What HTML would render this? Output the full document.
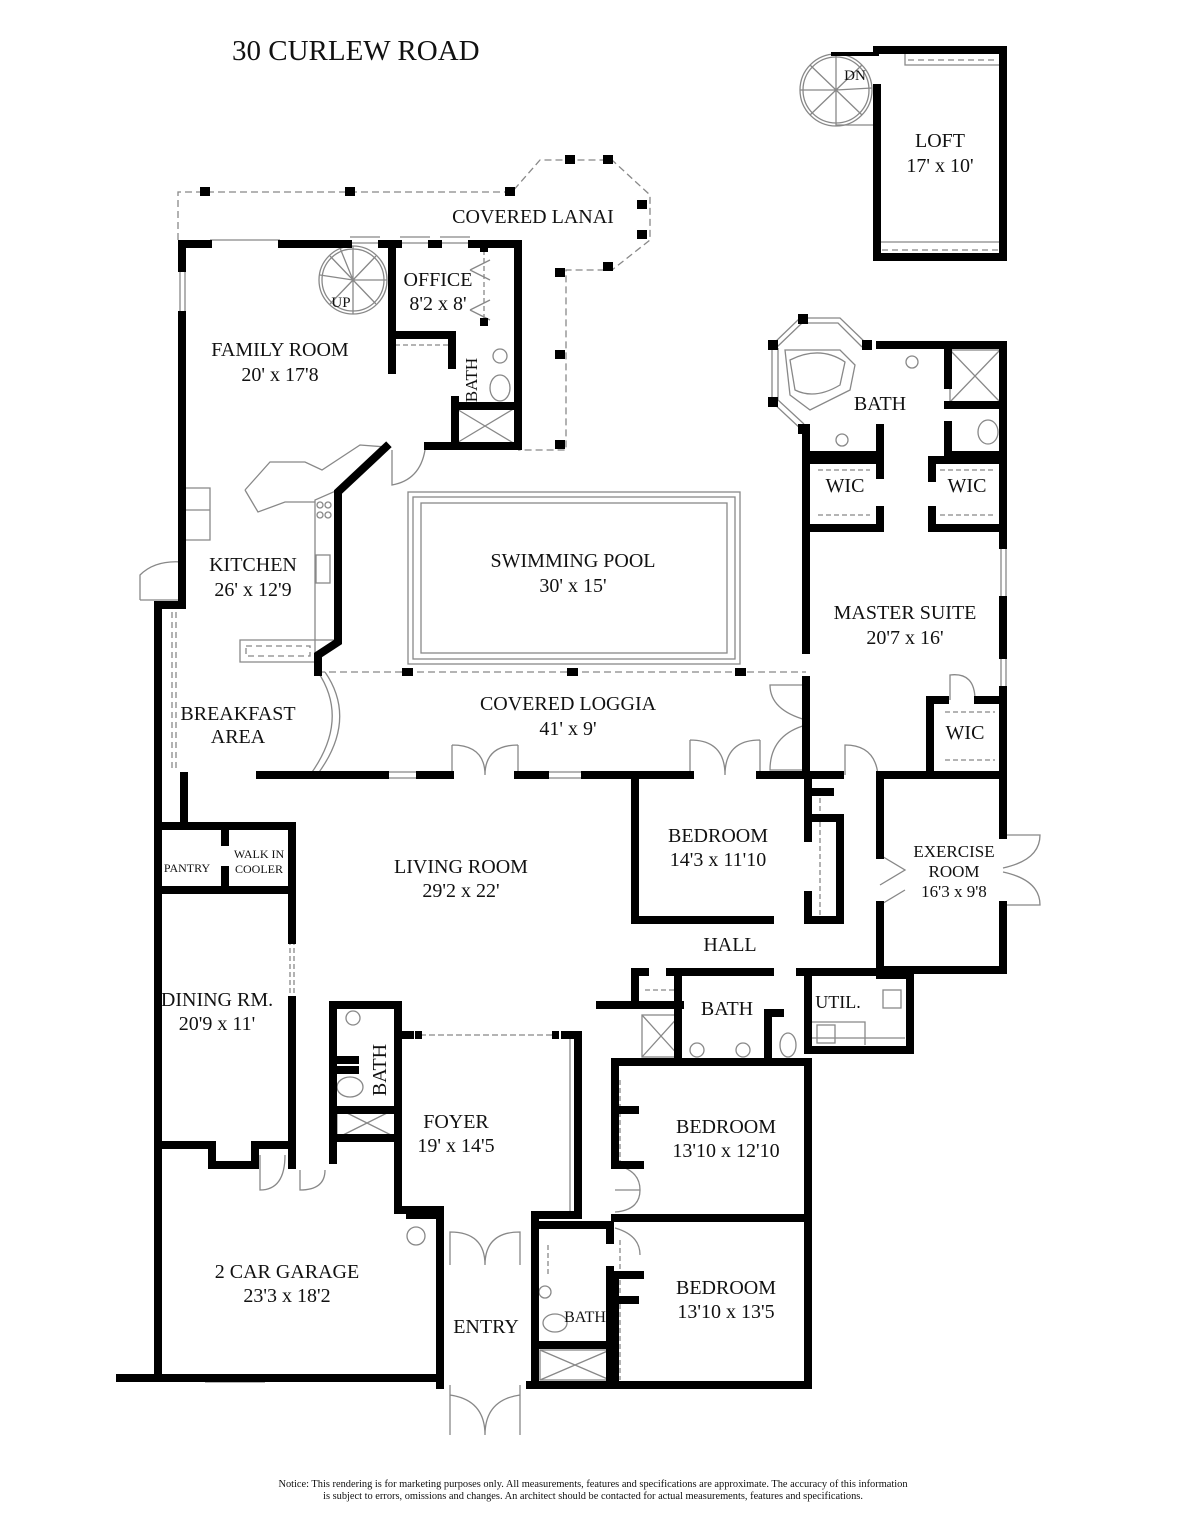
<!DOCTYPE html>
<html><head><meta charset="utf-8"><style>
html,body{margin:0;padding:0;background:#fff}
svg{display:block}
text{font-family:"Liberation Serif",serif;fill:#111}
</style></head><body>
<svg width="1186" height="1536" viewBox="0 0 1186 1536" xmlns="http://www.w3.org/2000/svg">
<rect width="1186" height="1536" fill="#fff"/>
<text x="232" y="60" font-size="29">30 CURLEW ROAD</text>

<g fill="none" stroke="#888" stroke-width="1.3">
 <path d="M178 240 L178 192 L512 192 L540 160 L612 160 L650 195 L650 240 L612 270 L566 270 L566 450 L518 450" stroke-dasharray="7 4"/>
 <path d="M318 672 L806 672" stroke-dasharray="7 4"/>
 <rect x="408" y="492" width="332" height="172"/>
 <rect x="413" y="497" width="322" height="162"/>
 <rect x="421" y="503" width="306" height="150"/>
 <path d="M318 672 Q350 720 310 775 M325 672 Q358 720 317 775"/>
 <path d="M905 50 L905 65 L1000 65 M880 242 L1000 242" />
 <path d="M908 60 L998 60 M882 250 L998 250" stroke-dasharray="6 4"/>
 <path d="M245 490 L270 462 L305 462 L322 470 L360 445 L386 447 L338 490 L315 500 L315 640 L338 640 M245 490 L258 512 L285 502 L315 502 M240 640 L315 640 L315 662 L240 662 Z"/>
 <path d="M246 646 L310 646 L310 656 L246 656 Z" stroke-dasharray="6 4"/>
 <path d="M185 488 L210 488 L210 540 L185 540 M185 510 L210 510"/>
 <rect x="316" y="555" width="14" height="28"/>
 <circle cx="320" cy="505" r="3"/><circle cx="328" cy="505" r="3"/><circle cx="320" cy="515" r="3"/><circle cx="328" cy="515" r="3"/>
 <path d="M180 268 L180 315 M185 268 L185 315 M210 240 L280 240 M350 237 L380 237 M350 243 L380 243 M400 237 L430 237 M400 243 L430 243 M440 237 L470 237 M440 243 L470 243"/>
 <path d="M336 500 L336 640 M341 500 L341 640"/>
 <path d="M385 772 L420 772 M385 778 L420 778 M545 772 L585 772 M545 778 L585 778"/>
 <path d="M804 555 L804 650 M809 555 L809 650 M1001 545 L1001 600 M1006 545 L1006 600 M1001 655 L1001 690 M1006 655 L1006 690"/>
 <path d="M1001 80 L1001 120 M1006 80 L1006 120 M1001 190 L1001 230 M1006 190 L1006 230"/>
 <path d="M155 1160 L155 1365 M160 1160 L160 1365 M205 1377 L265 1377 M205 1382 L265 1382"/>
 <path d="M555 1383 L590 1383 M555 1388 L590 1388 M695 1383 L755 1383 M695 1388 L755 1388"/>
 <path d="M156 1000 L156 1060 M161 1000 L161 1060 M806 1105 L806 1180 M811 1105 L811 1180 M806 1245 L806 1320 M811 1245 L811 1320"/>
 <path d="M570 1035 L570 1215 M575 1035 L575 1215"/>
 <path d="M420 1035 L552 1035" stroke-dasharray="6 3"/>
 <path d="M290 940 L290 1000 M294 940 L294 1000" stroke-dasharray="5 3"/>
 <path d="M172 612 L172 770 M176 612 L176 770" stroke-dasharray="6 4"/>
 <path d="M140 600 L140 575 Q155 560 182 562 M140 600 L182 600"/>
 <path d="M392 450 L392 485 Q420 480 425 450"/>
 <path d="M452 745 L452 775 M452 745 Q485 745 485 775 M518 745 L518 775 M518 745 Q485 745 485 775"/>
 <path d="M690 740 L690 775 M690 740 Q725 740 725 775 M760 740 L760 775 M760 740 Q725 740 725 775"/>
 <path d="M806 685 L770 685 Q770 710 806 720 M806 770 L770 770 Q770 735 806 725"/>
 <path d="M845 775 L845 745 Q875 745 878 775"/>
 <path d="M950 700 L950 675 Q975 672 975 700"/>
 <path d="M1003 835 L1040 835 Q1040 860 1003 868 M1003 905 L1040 905 Q1040 880 1003 872"/>
 <path d="M880 855 L905 870 L880 885 M880 905 L905 890"/>
 <path d="M450 1265 L450 1232 Q485 1232 485 1265 M520 1265 L520 1232 Q485 1232 485 1265"/>
 <path d="M450 1385 L450 1435 M520 1385 L520 1435 M450 1395 Q485 1400 485 1435 M520 1395 Q485 1400 485 1435"/>
 <path d="M260 1155 L260 1190 Q285 1190 285 1155 M300 1170 L300 1190 Q325 1190 325 1170"/>
 <path d="M615 1165 Q640 1170 640 1190 L615 1190 M615 1212 Q640 1210 640 1190"/>
 <path d="M615 1228 Q640 1235 640 1255"/>
 <path d="M470 270 L490 260 M470 270 L490 280 M470 310 L490 300 M470 310 L490 320"/>
 <circle cx="416" cy="1236" r="9"/>
 <rect x="950" y="350" width="50" height="52"/><path d="M950 350 L1000 402 M1000 350 L950 402"/>
 <rect x="455" y="408" width="60" height="36"/><path d="M455 408 L515 444 M515 408 L455 444"/>
 <rect x="337" y="1108" width="60" height="30"/><path d="M337 1108 L397 1138 M397 1108 L337 1138"/>
 <rect x="540" y="1350" width="70" height="30"/><path d="M540 1350 L610 1380 M610 1350 L540 1380"/>
 <rect x="642" y="1015" width="38" height="42"/><path d="M642 1015 L680 1057 M680 1015 L642 1057"/>
 <circle cx="500" cy="356" r="7"/><ellipse cx="500" cy="388" rx="10" ry="13"/>
 <circle cx="912" cy="362" r="6"/><circle cx="842" cy="440" r="6"/><ellipse cx="988" cy="432" rx="10" ry="12"/>
 <circle cx="353" cy="1018" r="7"/><ellipse cx="350" cy="1087" rx="13" ry="10"/>
 <circle cx="545" cy="1292" r="6"/><ellipse cx="555" cy="1323" rx="12" ry="9"/>
 <circle cx="697" cy="1050" r="7"/><circle cx="743" cy="1050" r="7"/><ellipse cx="788" cy="1045" rx="8" ry="12"/>
 <rect x="817" y="1025" width="18" height="18"/><rect x="883" y="990" width="18" height="18"/>
 <path d="M810 1038 L905 1038 M810 1022 L865 1022 L865 1045"/>
 <path d="M785 350 L840 350 L855 365 L850 390 L810 410 L790 395 Z"/>
 <path d="M790 360 Q820 345 845 362 L840 385 Q815 400 795 390 Z"/>
 <path d="M772 345 L800 318 L840 318 L868 345 M777 347 L802 323 L838 323 L862 347 M772 345 L772 402 L802 430 M778 348 L778 400 L804 424"/>
 <path d="M818 470 L870 470 M818 515 L870 515 M940 470 L995 470 M940 515 L995 515 M945 712 L995 712 M945 760 L995 760 M395 345 L448 345 M484 250 L484 320 M645 990 L675 990 M548 1245 L548 1275 M620 1080 L620 1165 M620 1240 L620 1380 M820 790 L820 915" stroke-dasharray="5 3"/>
 <circle cx="353" cy="280" r="34"/><circle cx="353" cy="280" r="31"/>
 <path d="M353 280 L353 246 M353 280 L376 256 M353 280 L387 280 M353 280 L376 304 M353 280 L353 314 M353 280 L330 304 M353 280 L320 275 M353 280 L330 256 M353 280 L340 248"/>
 <circle cx="836" cy="90" r="36"/><circle cx="836" cy="90" r="33"/>
 <path d="M836 90 L836 54 M836 90 L862 65 M836 90 L872 88 M836 90 L862 115 M836 90 L836 126 M836 90 L810 115 M836 90 L800 90 M836 90 L810 65 M836 125 L877 125"/>
</g>

<g fill="#000">
 <rect x="200" y="187" width="10" height="9"/><rect x="345" y="187" width="10" height="9"/><rect x="505" y="187" width="10" height="9"/>
 <rect x="565" y="155" width="10" height="9"/><rect x="603" y="155" width="10" height="9"/><rect x="637" y="200" width="10" height="9"/><rect x="637" y="230" width="10" height="9"/><rect x="603" y="262" width="10" height="9"/>
 <rect x="555" y="268" width="10" height="9"/><rect x="555" y="350" width="10" height="9"/><rect x="555" y="440" width="10" height="9"/>
 <rect x="402" y="668" width="11" height="8"/><rect x="567" y="668" width="11" height="8"/><rect x="735" y="668" width="11" height="8"/>
 <rect x="415" y="1031" width="7" height="8"/><rect x="552" y="1031" width="7" height="8"/>
 <rect x="768" y="340" width="10" height="10"/><rect x="768" y="397" width="10" height="10"/><rect x="798" y="314" width="10" height="10"/><rect x="798" y="424" width="10" height="10"/><rect x="862" y="340" width="10" height="10"/>
 <rect x="480" y="244" width="8" height="8"/><rect x="480" y="318" width="8" height="8"/>
</g>

<g fill="none" stroke="#000" stroke-width="8" stroke-linecap="square" stroke-linejoin="miter">
 <path d="M877 88 L877 257 L1003 257 L1003 50 L877 50"/>
 <path d="M833 54 L877 54" stroke-width="4"/>
 <path d="M182 268 L182 244 L208 244 M282 244 L348 244 M382 244 L398 244 M432 244 L438 244 M472 244 L518 244 L518 446 L455 446 L455 400"/>
 <path d="M182 315 L182 600"/>
 <path d="M392 244 L392 335 L452 335 M392 335 L392 370 M452 335 L452 365"/>
 <path d="M455 406 L518 406"/>
 <path d="M386 447 L338 492 L338 642 L318 655 L318 672"/>
 <path d="M428 446 L455 446"/>
 <path d="M158 605 L182 605 M158 605 L158 1375"/>
 <path d="M120 1378 L440 1378"/>
 <path d="M260 775 L385 775 M420 775 L450 775 M518 775 L545 775 M585 775 L690 775 M760 775 L806 775 L806 680 M806 650 L806 555 M806 430 L806 555"/>
 <path d="M184 776 L184 826 M158 826 L292 826 L292 940 M292 1000 L292 1140 M225 826 L225 842 M225 870 L225 890 M158 890 L292 890"/>
 <path d="M158 1145 L212 1145 L212 1165 L255 1165 L255 1145 L292 1145 L292 1165"/>
 <path d="M333 1160 L333 1005 L398 1005 L398 1210 L440 1210 L440 1385 M398 1035 L410 1035 M565 1035 L578 1035 L578 1215 L535 1215 L535 1385 M410 1215 L440 1215"/>
 <path d="M333 1060 L355 1060 M333 1070 L355 1070 M333 1110 L398 1110 M333 1138 L398 1138"/>
 <path d="M806 430 L806 428 M880 345 L1003 345 L1003 545 M1003 600 L1003 655 M1003 690 L1003 775 L880 775 M840 775 L806 775"/>
 <path d="M880 428 L880 455 L808 455 M810 460 L880 460 L880 475 M880 510 L880 528 L808 528"/>
 <path d="M948 345 L948 385 M948 405 L1003 405 M948 425 L948 455 L1003 455 M932 460 L1003 460 M932 460 L932 478 M932 510 L932 528 L1003 528"/>
 <path d="M930 775 L930 700 L945 700 M978 700 L1003 700"/>
 <path d="M635 778 L635 920 L770 920 M808 920 L840 920 L840 818 L808 818 L808 778 M808 818 L808 838 M808 895 L808 920 M808 792 L830 792"/>
 <path d="M880 778 L880 855 M880 905 L880 970 L1003 970 L1003 905 M1003 835 L1003 778"/>
 <path d="M635 1000 L635 972 L645 972 M670 972 L770 972 M800 972 L880 972 M808 972 L808 1050 L910 1050 L910 975 L880 975"/>
 <path d="M600 1005 L680 1005 M678 972 L678 1060 M615 1062 L808 1062 L808 1385 M768 1013 L768 1060 M768 1013 L780 1013"/>
 <path d="M615 1062 L615 1165 L640 1165 M615 1218 L808 1218 M615 1275 L640 1275 M615 1275 L615 1385 M530 1385 L808 1385"/>
 <path d="M535 1225 L610 1225 L610 1240 M610 1270 L610 1385 M535 1345 L610 1345"/>
 <path d="M615 1110 L635 1110 M615 1300 L635 1300"/>
</g>

<g font-size="20" text-anchor="middle">
 <text x="533" y="223">COVERED LANAI</text>
 <text x="280" y="356">FAMILY ROOM</text><text x="280" y="381">20' x 17'8</text>
 <text x="438" y="286">OFFICE</text><text x="438" y="310">8'2 x 8'</text>
 <text x="253" y="571">KITCHEN</text><text x="253" y="596">26' x 12'9</text>
 <text x="573" y="567">SWIMMING POOL</text><text x="573" y="592">30' x 15'</text>
 <text x="238" y="720">BREAKFAST</text><text x="238" y="743">AREA</text>
 <text x="568" y="710">COVERED LOGGIA</text><text x="568" y="735">41' x 9'</text>
 <text x="905" y="619">MASTER SUITE</text><text x="905" y="644">20'7 x 16'</text>
 <text x="880" y="410">BATH</text>
 <text x="845" y="492">WIC</text><text x="967" y="492">WIC</text><text x="965" y="739">WIC</text>
 <text x="718" y="842">BEDROOM</text><text x="718" y="866">14'3 x 11'10</text>
 <text x="461" y="873">LIVING ROOM</text><text x="461" y="897">29'2 x 22'</text>
 <text x="730" y="951">HALL</text>
 <text x="727" y="1015">BATH</text>
 <text x="838" y="1008" font-size="18">UTIL.</text>
 <text x="217" y="1006">DINING RM.</text><text x="217" y="1030">20'9 x 11'</text>
 <text x="456" y="1128">FOYER</text><text x="456" y="1152">19' x 14'5</text>
 <text x="726" y="1133">BEDROOM</text><text x="726" y="1157">13'10 x 12'10</text>
 <text x="726" y="1294">BEDROOM</text><text x="726" y="1318">13'10 x 13'5</text>
 <text x="287" y="1278">2 CAR GARAGE</text><text x="287" y="1302">23'3 x 18'2</text>
 <text x="486" y="1333">ENTRY</text>
 <text x="940" y="147">LOFT</text><text x="940" y="172">17' x 10'</text>
</g>
<text x="954" y="857" font-size="17" text-anchor="middle">EXERCISE</text>
<text x="954" y="877" font-size="17" text-anchor="middle">ROOM</text>
<text x="954" y="897" font-size="17" text-anchor="middle">16'3 x 9'8</text>
<text x="341" y="307" font-size="15" text-anchor="middle">UP</text>
<text x="855" y="80" font-size="15" text-anchor="middle">DN</text>
<text x="585" y="1322" font-size="16" text-anchor="middle">BATH</text>
<text x="187" y="872" font-size="12" text-anchor="middle">PANTRY</text>
<text x="259" y="858" font-size="12" text-anchor="middle">WALK IN</text>
<text x="259" y="873" font-size="12" text-anchor="middle">COOLER</text>
<text transform="translate(477,380) rotate(-90)" font-size="17" text-anchor="middle">BATH</text>
<text transform="translate(386,1070) rotate(-90)" font-size="20" text-anchor="middle">BATH</text>
<text x="593" y="1487" font-size="10.4" text-anchor="middle">Notice: This rendering is for marketing purposes only. All measurements, features and specifications are approximate. The accuracy of this information</text>
<text x="593" y="1499" font-size="10.4" text-anchor="middle">is subject to errors, omissions and changes. An architect should be contacted for actual measurements, features and specifications.</text>
</svg>
</body></html>
